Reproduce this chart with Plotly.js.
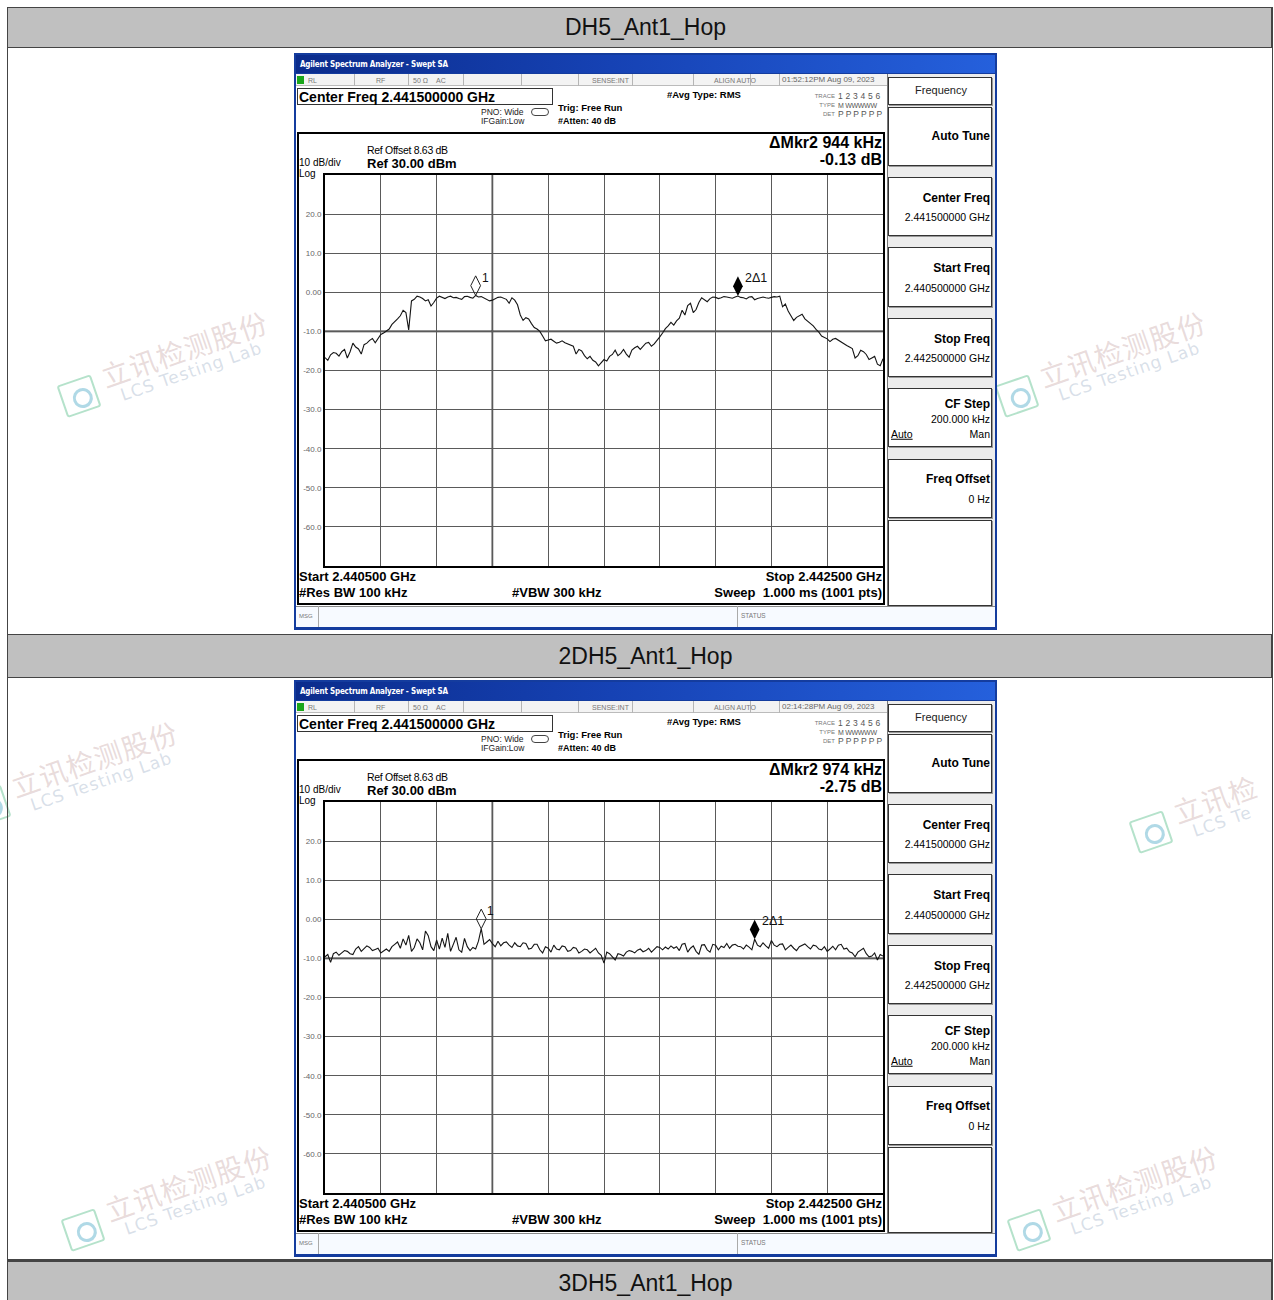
<!DOCTYPE html>
<html><head><meta charset="utf-8">
<script src="https://cdn.plot.ly/plotly-3.0.1.min.js"></script>
<style>
html,body{margin:0;padding:0}
body{width:1274px;height:1300px;position:relative;background:#fff;overflow:hidden;font-family:"Liberation Sans",Arial,sans-serif}
.abs{position:absolute}
.t{position:absolute;white-space:nowrap;line-height:1;transform:translateY(-50%);color:#000}
.r{transform:translate(-100%,-50%)}
.c{transform:translate(-50%,-50%)}
.hdr{position:absolute;left:7px;width:1265px;background:#c0c0c0;border:1px solid #444;box-sizing:border-box;display:flex;align-items:center;justify-content:center;padding-left:12px;font-size:23px;color:#111;z-index:3}
.screen{position:absolute;width:703px;height:577px;z-index:5}
.frame{position:absolute;left:0;top:0;width:703px;height:577px;background:#143c9e}
.titlebar{position:absolute;left:2px;top:2px;width:699px;height:18px;background:linear-gradient(90deg,#0b2c8c 0%,#1642b4 45%,#2560dc 100%)}
.status{position:absolute;left:2px;top:21px;width:591px;height:12px;background:#f3f3f3;border-bottom:1px solid #bbb;box-sizing:border-box}
.sep{position:absolute;top:21px;width:1px;height:12px;background:#b5b5b5}
.main{position:absolute;left:2px;top:33px;width:591px;height:520px;background:#fff}
.soft{position:absolute;left:593px;top:21px;width:108px;height:532px;background:#ececec;border-left:1px solid #777;box-sizing:border-box}
.key{position:absolute;left:594px;width:104px;background:#fff;border:1px solid #333;box-sizing:border-box;box-shadow:1px 1px 0 #999}
.msg{position:absolute;left:2px;top:553px;width:699px;height:21px;background:#f7faff;border-top:1px solid #888;box-sizing:border-box}
.panel{position:absolute;left:3px;top:79px;width:588px;height:473px;border:2px solid #000;box-sizing:border-box}
.plot{position:absolute;left:2px;top:117px;width:590px;height:400px}
.st{font-size:7px;color:#777}
.b{font-weight:bold}
.wm{position:absolute;z-index:1;transform-origin:0 50%;transform:rotate(-19deg);white-space:nowrap}
.wm .logo{position:absolute;left:0;top:8px;width:36px;height:34px;border:2px solid rgba(90,190,140,0.45);border-radius:3px;box-sizing:border-box}
.wm .logo i{position:absolute;left:9px;top:8px;width:14px;height:14px;border:3px solid rgba(80,170,200,0.45);border-radius:50%}
.wm .cn{position:absolute;left:46px;top:-6px;font:28px "Noto Sans CJK SC";color:rgba(205,175,175,0.45);letter-spacing:1px}
.wm .en{position:absolute;left:58px;top:28px;font:17px "DejaVu Sans";color:rgba(170,185,205,0.45);letter-spacing:1px}
</style></head>
<body>
<div id="page"></div>
<script>
// ---- data ----
const sweepStartMHz = 2440.5;
const sweepStopMHz = 2442.5;
const freqMHz = [
2440.50,2440.51,2440.52,2440.53,2440.54,2440.55,2440.56,2440.57,2440.58,2440.59,
2440.60,2440.61,2440.62,2440.63,2440.64,2440.65,2440.66,2440.67,2440.68,2440.69,
2440.70,2440.71,2440.72,2440.73,2440.74,2440.75,2440.76,2440.77,2440.78,2440.79,
2440.80,2440.81,2440.82,2440.83,2440.84,2440.85,2440.86,2440.87,2440.88,2440.89,
2440.90,2440.91,2440.92,2440.93,2440.94,2440.95,2440.96,2440.97,2440.98,2440.99,
2441.00,2441.01,2441.02,2441.03,2441.04,2441.05,2441.06,2441.07,2441.08,2441.09,
2441.10,2441.11,2441.12,2441.13,2441.14,2441.15,2441.16,2441.17,2441.18,2441.19,
2441.20,2441.21,2441.22,2441.23,2441.24,2441.25,2441.26,2441.27,2441.28,2441.29,
2441.30,2441.31,2441.32,2441.33,2441.34,2441.35,2441.36,2441.37,2441.38,2441.39,
2441.40,2441.41,2441.42,2441.43,2441.44,2441.45,2441.46,2441.47,2441.48,2441.49,
2441.50,2441.51,2441.52,2441.53,2441.54,2441.55,2441.56,2441.57,2441.58,2441.59,
2441.60,2441.61,2441.62,2441.63,2441.64,2441.65,2441.66,2441.67,2441.68,2441.69,
2441.70,2441.71,2441.72,2441.73,2441.74,2441.75,2441.76,2441.77,2441.78,2441.79,
2441.80,2441.81,2441.82,2441.83,2441.84,2441.85,2441.86,2441.87,2441.88,2441.89,
2441.90,2441.91,2441.92,2441.93,2441.94,2441.95,2441.96,2441.97,2441.98,2441.99,
2442.00,2442.01,2442.02,2442.03,2442.04,2442.05,2442.06,2442.07,2442.08,2442.09,
2442.10,2442.11,2442.12,2442.13,2442.14,2442.15,2442.16,2442.17,2442.18,2442.19,
2442.20,2442.21,2442.22,2442.23,2442.24,2442.25,2442.26,2442.27,2442.28,2442.29,
2442.30,2442.31,2442.32,2442.33,2442.34,2442.35,2442.36,2442.37,2442.38,2442.39,
2442.40,2442.41,2442.42,2442.43,2442.44,2442.45,2442.46,2442.47,2442.48,2442.49,
2442.50];

const dh5LevelDbm = [
-16.7,-17.4,-16.0,-15.4,-15.6,-16.3,-15.2,-14.6,-16.8,-15.2,
-13.0,-14.0,-14.5,-15.8,-13.4,-13.0,-12.3,-11.8,-12.9,-12.0,
-10.8,-10.4,-10.0,-9.4,-8.2,-7.6,-6.8,-6.0,-4.6,-5.2,
-9.6,-2.2,-1.8,-1.0,-1.2,-1.6,-2.2,-1.9,-3.5,-2.6,
-1.5,-1.0,-1.3,-1.6,-1.2,-1.0,-1.4,-1.3,-1.6,-1.8,
-1.1,-1.0,-1.3,-1.5,-0.8,-1.2,-1.1,-1.4,-1.8,-2.2,
-2.0,-1.6,-1.3,-1.2,-1.5,-1.8,-2.8,-1.4,-2.0,-3.2,
-5.8,-7.2,-6.5,-6.8,-8.0,-9.0,-9.4,-10.0,-11.2,-12.4,
-12.2,-12.0,-12.5,-13.0,-12.8,-12.4,-12.9,-13.2,-13.5,-13.8,
-15.8,-14.6,-15.0,-16.2,-17.0,-16.4,-17.4,-17.8,-18.8,-17.9,
-17.2,-17.6,
-16.4,-15.9,-14.8,-16.2,-15.6,-14.6,-15.8,-16.6,-14.8,-14.2,
-13.8,-14.6,-13.9,-13.0,-12.8,-13.8,-13.2,-12.4,-11.4,-10.4,
-9.3,-8.6,-7.7,-8.4,-7.3,-6.6,-4.6,-5.8,-3.4,-2.8,
-5.2,-4.4,-2.6,-1.4,-2.0,-2.4,-1.6,-1.2,-1.3,-1.6,
-1.4,-1.1,-1.2,-1.3,-1.5,-1.2,-0.95,-1.3,-1.4,-1.7,
-1.2,-1.1,-1.9,-1.6,-1.3,-1.2,-1.4,-1.5,-1.3,-1.1,
-1.2,-1.0,-3.7,-3.0,-4.8,-6.2,-7.2,-6.4,-5.9,-5.6,
-6.8,-7.4,-7.9,-8.6,-9.5,-10.2,-11.2,-11.6,-11.9,-12.6,
-12.0,-11.8,-12.3,-12.8,-13.2,-13.6,-14.0,-14.4,-16.8,-16.2,
-14.8,-15.2,-15.9,-17.2,-16.8,-16.4,-18.4,-18.8,-17.0];

const dh5_2LevelDbm = [
-9.6,-9.0,-11.0,-8.8,-8.4,-9.2,-8.6,-8.0,-8.2,-8.8,
-9.0,-7.6,-7.0,-8.2,-7.5,-6.8,-7.2,-8.0,-7.7,-7.4,
-8.6,-8.0,-7.6,-8.2,-7.0,-6.4,-5.8,-7.4,-5.0,-6.6,
-4.1,-8.2,-7.2,-5.0,-6.0,-7.8,-3.0,-4.2,-7.0,-8.0,
-5.3,-7.6,-4.8,-7.2,-3.6,-8.2,-6.2,-4.6,-7.8,-8.4,
-4.9,-7.0,-8.0,-7.2,-7.6,-5.6,-2.4,-6.4,-5.8,-5.2,
-6.2,-7.0,-5.6,-6.8,-6.0,-5.8,-6.6,-7.2,-6.0,-6.8,
-7.0,-6.0,-6.2,-7.6,-7.4,-6.4,-6.4,-7.8,-8.6,-7.0,
-7.4,-8.4,-6.6,-7.6,-7.8,-6.8,-7.0,-8.2,-8.0,-7.2,
-7.4,-8.6,-8.2,-7.6,-7.8,-8.6,-8.0,-7.4,-8.6,-9.2,
-11.2,-8.4,
-8.8,-9.6,-10.4,-8.8,-9.0,-9.4,-8.4,-8.0,-8.2,-8.6,
-7.9,-7.6,-8.3,-8.0,-7.4,-8.4,-7.8,-7.0,-7.2,-7.8,
-7.1,-7.6,-6.8,-7.4,-7.0,-8.0,-6.4,-6.2,-8.4,-7.4,
-6.8,-8.2,-9.0,-6.6,-6.5,-7.8,-8.4,-6.4,-6.6,-7.8,
-6.9,-7.2,-6.2,-7.4,-6.6,-6.4,-6.9,-7.0,-7.6,-6.6,
-7.1,-7.8,-5.1,-6.6,-7.0,-6.0,-6.8,-7.4,-5.4,-6.6,
-7.0,-6.4,-6.3,-7.8,-7.2,-6.6,-7.4,-8.0,-7.0,-6.6,
-6.3,-7.0,-7.6,-6.6,-6.8,-7.6,-7.8,-7.0,-8.2,-7.6,
-6.9,-7.8,-6.6,-6.4,-7.6,-7.4,-8.3,-8.6,-9.6,-8.4,
-7.8,-7.4,-8.8,-9.6,-9.4,-8.6,-10.4,-9.0,-9.4];

const dh5MarkerFreq = [2441.04, 2441.98];
const dh5MarkerLevel = [-0.8, -0.93];
const dh5_2MarkerFreq = [2441.06, 2442.04];
const dh5_2MarkerLevel = [-2.4, -5.1];
const markerLabels = ["1", "2Δ1"];

const yTickVals = [20, 10, 0, -10, -20, -30, -40, -50, -60];
const yTickText = ["20.0", "10.0", "0.00", "-10.0", "-20.0", "-30.0", "-40.0", "-50.0", "-60.0"];

const sectionTitles = ["DH5_Ant1_Hop", "2DH5_Ant1_Hop", "3DH5_Ant1_Hop"];

// ---- page chrome ----
const page = document.getElementById('page');
let html = '';
html += '<div class="abs" style="left:7px;top:7px;width:1266px;height:1310px;border:1px solid #444;box-sizing:border-box;z-index:2"></div>';
html += `<div class="hdr" style="top:7px;height:41px">${sectionTitles[0]}</div>`;
html += `<div class="hdr" style="top:634px;height:44px">${sectionTitles[1]}</div>`;
html += `<div class="hdr" style="top:1261px;height:45px">${sectionTitles[2]}</div>`;
html += '<div class="abs" style="left:7px;top:1259px;width:1266px;height:2px;background:#444;z-index:2"></div>';

const wmList = [
  [62, 402, '立讯检测股份', 'LCS Testing Lab'],
  [1000, 402, '立讯检测股份', 'LCS Testing Lab'],
  [-28, 812, '立讯检测股份', 'LCS Testing Lab'],
  [1134, 838, '立讯检', 'LCS Te'],
  [66, 1236, '立讯检测股份', 'LCS Testing Lab'],
  [1012, 1236, '立讯检测股份', 'LCS Testing Lab']
];
wmList.forEach(p => {
  html += `<div class="wm" style="left:${p[0]}px;top:${p[1]-25}px;width:260px;height:50px"><div class="logo"><i></i></div><div class="cn">${p[2]}</div><div class="en">${p[3]}</div></div>`;
});

const T = (x, y, txt, cls, st) => `<div class="t ${cls || ''}" style="left:${x}px;top:${y}px;${st || ''}">${txt}</div>`;

function screenHTML(c) {
  let h = '';
  h += '<div class="frame"></div><div class="titlebar"></div>';
  h += T(6, 12, 'Agilent Spectrum Analyzer - Swept SA', 'b', 'color:#fff;font-size:8px;font-family:\'DejaVu Sans Condensed\',\'DejaVu Sans\';letter-spacing:-0.2px');
  h += '<div class="status"></div>';
  [60, 114, 169, 227, 284, 338, 399, 456, 485].forEach(x => { h += `<div class="sep" style="left:${x}px"></div>`; });
  h += '<div class="abs" style="left:3px;top:23px;width:7px;height:8px;background:#1aa61a"></div>';
  h += T(14, 27, 'RL', 'st');
  h += T(82, 27, 'RF', 'st');
  h += T(119, 27, '50 Ω', 'st');
  h += T(142, 27, 'AC', 'st');
  h += T(298, 27, 'SENSE:INT', 'st');
  h += T(420, 27, 'ALIGN AUTO', 'st');
  h += T(488, 27, c.time, 'st', 'font-size:8px;color:#666');
  h += '<div class="main"></div>';
  h += '<div class="soft"></div>';
  const keyTops = [24, 54, 124, 194, 265, 335, 406, 467];
  const keyH = [28, 59, 59, 60, 59, 59, 59, 86];
  keyTops.forEach((y, i) => { h += `<div class="key" style="top:${y}px;height:${keyH[i]}px"></div>`; });
  h += '<div class="msg"></div>';
  h += '<div class="abs" style="left:24px;top:553px;width:1px;height:21px;background:#aaa"></div>';
  h += '<div class="abs" style="left:443px;top:553px;width:1px;height:21px;background:#aaa"></div>';
  h += T(5, 563, 'MSG', 'st', 'font-size:6px');
  h += T(447, 563, 'STATUS', 'st', 'font-size:6.5px');
  // header
  h += '<div class="abs" style="left:3px;top:35px;width:256px;height:17px;border:1px solid #333;box-sizing:border-box"></div>';
  h += T(5, 44, 'Center Freq 2.441500000 GHz', 'b', 'font-size:14px');
  h += T(187, 59, 'PNO: Wide', '', 'font-size:8.5px;color:#222');
  h += T(187, 68, 'IFGain:Low', '', 'font-size:8.5px;color:#222');
  h += '<div class="abs" style="left:237px;top:55px;width:18px;height:8px;border:1px solid #444;border-radius:4px;box-sizing:border-box"></div>';
  h += T(264, 55, 'Trig: Free Run', 'b', 'font-size:9.5px');
  h += T(264, 68, '#Atten: 40 dB', 'b', 'font-size:9px');
  h += T(373, 42, '#Avg Type: RMS', 'b', 'font-size:9.5px');
  h += T(541, 43, 'TRACE', 'st r', 'font-size:6px');
  h += T(541, 52, 'TYPE', 'st r', 'font-size:6px');
  h += T(541, 61, 'DET', 'st r', 'font-size:6px');
  h += T(544, 43, '1 2 3 4 5 6', '', 'font-size:8.5px;color:#555;letter-spacing:0.2px');
  h += T(544, 52, 'M WWWWW', '', 'font-size:7px;color:#555;letter-spacing:-0.3px');
  h += T(544, 61, 'P P P P P P', '', 'font-size:8.5px;color:#555;letter-spacing:-0.1px');
  // graph panel
  h += '<div class="panel"></div>';
  h += `<div class="plot" id="${c.plotId}"></div>`;
  h += T(588, 90, c.mkrF, 'b r', 'font-size:16px');
  h += T(588, 107, c.mkrL, 'b r', 'font-size:16px');
  h += T(73, 97, 'Ref Offset 8.63 dB', '', 'font-size:10.5px;letter-spacing:-0.3px');
  h += T(73, 110, 'Ref 30.00 dBm', 'b', 'font-size:13px');
  h += T(5, 110, '10 dB/div', '', 'font-size:10px');
  h += T(5, 120.5, 'Log', '', 'font-size:10px');
  h += T(5, 523, 'Start 2.440500 GHz', 'b', 'font-size:13px');
  h += T(5, 539, '#Res BW 100 kHz', 'b', 'font-size:13px');
  h += T(218, 539, '#VBW 300 kHz', 'b', 'font-size:13px');
  h += T(588, 523, 'Stop 2.442500 GHz', 'b r', 'font-size:13px');
  h += T(588, 539, 'Sweep&nbsp; 1.000 ms (1001 pts)', 'b r', 'font-size:13px');
  // softkeys
  h += T(647, 37, 'Frequency', 'c', 'font-size:11px;color:#222');
  h += T(696, 83, 'Auto Tune', 'b r', 'font-size:12px');
  h += T(696, 145, 'Center Freq', 'b r', 'font-size:12px');
  h += T(696, 164, '2.441500000 GHz', 'r', 'font-size:10.5px');
  h += T(696, 215, 'Start Freq', 'b r', 'font-size:12px');
  h += T(696, 235, '2.440500000 GHz', 'r', 'font-size:10.5px');
  h += T(696, 286, 'Stop Freq', 'b r', 'font-size:12px');
  h += T(696, 305, '2.442500000 GHz', 'r', 'font-size:10.5px');
  h += T(696, 351, 'CF Step', 'b r', 'font-size:12px');
  h += T(696, 366, '200.000 kHz', 'r', 'font-size:10.5px');
  h += T(597, 381, 'Auto', '', 'font-size:10.5px;text-decoration:underline');
  h += T(696, 381, 'Man', 'r', 'font-size:10.5px');
  h += T(696, 426, 'Freq Offset', 'b r', 'font-size:12px');
  h += T(696, 446, '0 Hz', 'r', 'font-size:10.5px');
  return h;
}

const screens = [
  {x: 294, y: 53, time: '01:52:12PM Aug 09, 2023', mkrF: 'ΔMkr2 944 kHz', mkrL: '-0.13 dB', plotId: 'plot1',
   level: dh5LevelDbm, mf: dh5MarkerFreq, ml: dh5MarkerLevel},
  {x: 294, y: 680, time: '02:14:28PM Aug 09, 2023', mkrF: 'ΔMkr2 974 kHz', mkrL: '-2.75 dB', plotId: 'plot2',
   level: dh5_2LevelDbm, mf: dh5_2MarkerFreq, ml: dh5_2MarkerLevel}
];
screens.forEach(s => {
  html += `<div class="screen" style="left:${s.x}px;top:${s.y}px">${screenHTML(s)}</div>`;
});
page.innerHTML = html;

const DIAMOND_LIFT = 2.5; // marker glyph sits above its trace point
screens.forEach(s => {
  const data = [
    {x: freqMHz, y: s.level, type: 'scatter', mode: 'lines', line: {color: '#151515', width: 1.1}, hoverinfo: 'skip'},
    {x: [s.mf[0]], y: [s.ml[0] + DIAMOND_LIFT], type: 'scatter', mode: 'markers',
     marker: {symbol: 'diamond-tall-open', size: 14, color: '#222', line: {width: 1, color: '#222'}}, hoverinfo: 'skip'},
    {x: [s.mf[1]], y: [s.ml[1] + DIAMOND_LIFT], type: 'scatter', mode: 'markers',
     marker: {symbol: 'diamond-tall', size: 14, color: '#000'}, hoverinfo: 'skip'}
  ];
  const layout = {
    width: 590, height: 400, margin: {l: 29, r: 3, t: 5, b: 4},
    paper_bgcolor: 'rgba(0,0,0,0)', plot_bgcolor: '#ffffff', showlegend: false,
    xaxis: {range: [sweepStartMHz, sweepStopMHz], tick0: sweepStartMHz, dtick: 0.2, showgrid: true,
            gridcolor: '#5a5a5a', gridwidth: 1, showticklabels: false, zeroline: false,
            showline: true, mirror: true, linecolor: '#000', linewidth: 2, ticks: ''},
    yaxis: {range: [-70, 30], tickvals: yTickVals, ticktext: yTickText, showgrid: true,
            gridcolor: '#5a5a5a', gridwidth: 1, zeroline: false, showline: true, mirror: true,
            linecolor: '#000', linewidth: 2, ticks: '',
            tickfont: {size: 8, color: '#666', family: 'Liberation Sans'}},
    shapes: [
      {type: 'line', xref: 'x', yref: 'paper', x0: 2441.1, x1: 2441.1, y0: 0, y1: 1, line: {color: '#222', width: 1.6}, layer: 'below'},
      {type: 'line', xref: 'paper', yref: 'y', x0: 0, x1: 1, y0: -10, y1: -10, line: {color: '#222', width: 1.6}, layer: 'below'}
    ],
    annotations: [
      {x: s.mf[0], y: s.ml[0] + DIAMOND_LIFT, text: markerLabels[0], showarrow: false, xanchor: 'left', yanchor: 'middle',
       xshift: 4, yshift: 8, font: {size: 12, color: '#111', family: 'Liberation Sans'}},
      {x: s.mf[1], y: s.ml[1] + DIAMOND_LIFT, text: markerLabels[1], showarrow: false, xanchor: 'left', yanchor: 'middle',
       xshift: 5, yshift: 8, font: {size: 12.5, color: '#111', family: 'Liberation Sans'}}
    ]
  };
  Plotly.newPlot(s.plotId, data, layout, {staticPlot: true, displayModeBar: false});
});
</script>
</body></html>
